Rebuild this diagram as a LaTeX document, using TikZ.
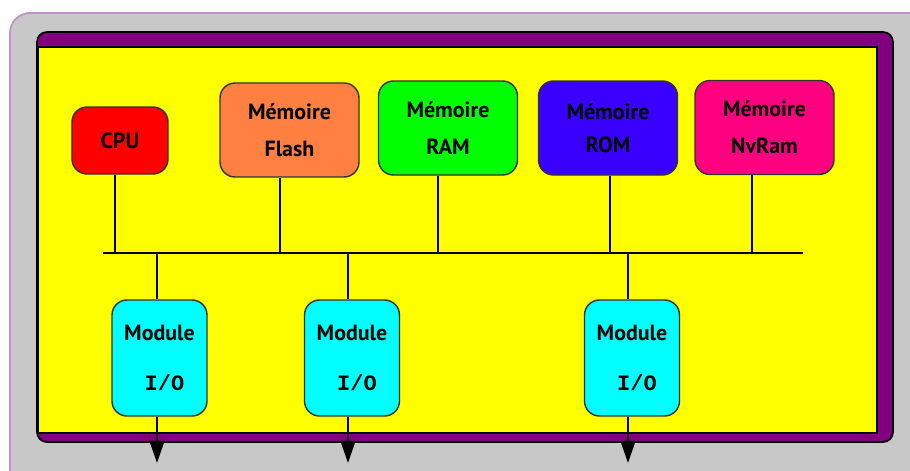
\documentclass[tikz,border=0pt]{standalone}
\usepackage{fontspec}
\setmainfont{PT Sans}
\setmonofont{Liberation Mono}
\usetikzlibrary{arrows.meta}
\definecolor{fond}{HTML}{C8C8C8}
\definecolor{cadre}{HTML}{C090C8}
\definecolor{violet}{HTML}{800080}
\definecolor{jaune}{HTML}{FFFF00}
\definecolor{rouge}{HTML}{FF0000}
\definecolor{orange}{HTML}{FF8040}
\definecolor{vert}{HTML}{00FF00}
\definecolor{bleu}{HTML}{3A00FF}
\definecolor{rose}{HTML}{FF0080}
\definecolor{cyan}{HTML}{00FFFF}
\begin{document}
\begin{tikzpicture}[x=0.2mm, y=-0.2mm, line width=1.1pt]
        \tikzstyle{bloc} = [draw=black!80, line width=0.8pt, rounded corners=3mm, font=\bfseries\fontsize{12.5}{14}\selectfont, align=center]
        \tikzstyle{memoire} = [bloc, minimum width=27.8mm, minimum height=18.8mm]
        \tikzstyle{module} = [bloc, fill=cyan, minimum width=19mm, minimum height=23.2mm]
        \useasboundingbox (0,0) rectangle (910,471);
        % fond et cadre
        \draw[cadre, fill=fond, line width=1pt, rounded corners=4mm] (10,13) rectangle (940,500);
        \draw[black, fill=violet, line width=1pt, rounded corners=2mm] (37,32) rectangle (893,442);
        \draw[black, fill=jaune, line width=1pt] (38,47) rectangle (877,433);

        \node[bloc, fill=rouge, minimum width=19.2mm, minimum height=13.4mm] (cpu) at (120,140.5) {CPU};
        \node[memoire, fill=orange] (flash) at (289.5,130) {Mémoire\\[7pt]Flash};
        \node[memoire, fill=vert] (ram) at (448,128) {Mémoire\\[7pt]RAM};
        \node[memoire, fill=bleu] (rom) at (608,128) {Mémoire\\[5pt]ROM};
        \node[memoire, fill=rose] (nvram) at (764.5,127.5) {Mémoire\\[7pt]NvRam};

        \node[module] (io1) at (159.5,358) {Module\\[14pt]\hspace*{2mm}\texttt{I/O}};
        \node[module] (io2) at (352,358) {Module\\[14pt]\hspace*{2mm}\texttt{I/O}};
        \node[module] (io3) at (632,358) {Module\\[14pt]\hspace*{2mm}\texttt{I/O}};

        % bus
        \coordinate (bg) at (103,253);
        \coordinate (bd) at (803,253);
        \coordinate (b1) at (115,253);
        \coordinate (b2) at (280,253);
        \coordinate (b3) at (438,253);
        \coordinate (b4) at (610,253);
        \coordinate (b5) at (752,253);
        \coordinate (b6) at (157,253);
        \coordinate (b7) at (348,253);
        \coordinate (b8) at (628,253);
        \coordinate (s1) at (157,463);
        \coordinate (s2) at (348,463);
        \coordinate (s3) at (628,463);
        \draw (bg) -- (bd);
        \path
                (b1 |- cpu.south) edge (b1)
                (b2 |- flash.south) edge (b2)
                (b3 |- ram.south) edge (b3)
                (b4 |- rom.south) edge (b4)
                (b5 |- nvram.south) edge (b5)
                (b6) edge (b6 |- io1.north)
                (b7) edge (b7 |- io2.north)
                (b8) edge (b8 |- io3.north);
        \path[-{Triangle[length=4.5mm, width=3mm]}]
                (s1 |- io1.south) edge (s1)
                (s2 |- io2.south) edge (s2)
                (s3 |- io3.south) edge (s3);
\end{tikzpicture}
\end{document}
